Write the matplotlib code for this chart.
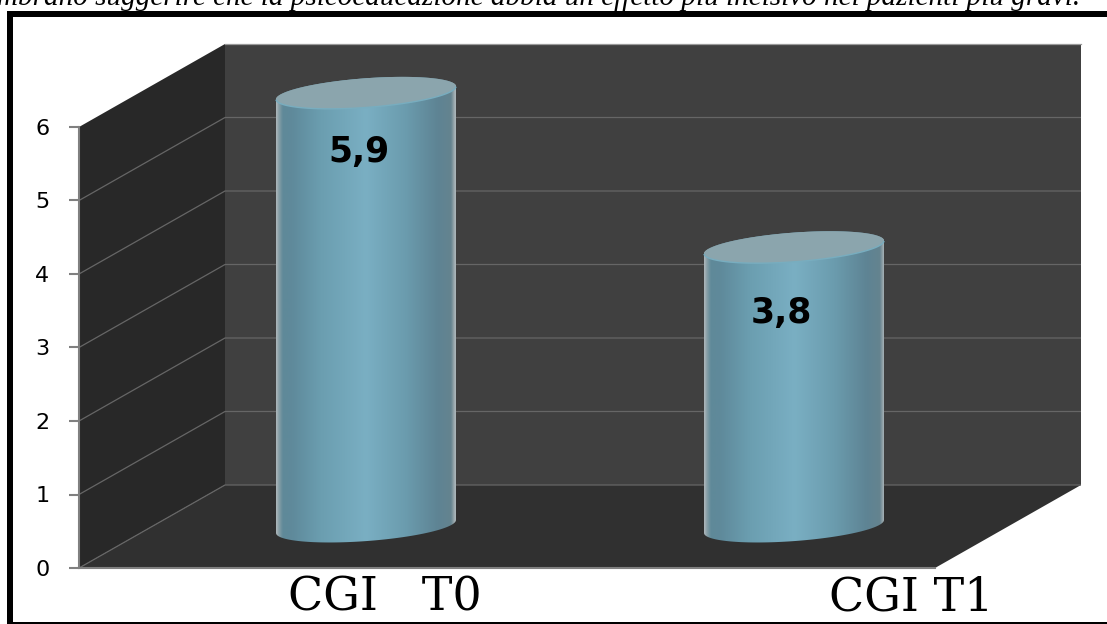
import numpy as np
import matplotlib
matplotlib.use("Agg")
import matplotlib.pyplot as plt
from matplotlib.colors import LinearSegmentedColormap
from matplotlib.patches import Polygon, Rectangle

# Values
categories = ["CGI   T0", "CGI T1"]
cgi_scores = [5.9, 3.8]
score_labels = ["5,9", "3,8"]
y_ticks = [0, 1, 2, 3, 4, 5, 6]
caption = "mbrano suggerire che la psicoeducazione abbia un effetto più incisivo nei pazienti più gravi."

# Figure geometry in pixels
W, H = 1107, 624
LEFT, BASE = 79, 568          # front corner of the box
UNIT_X, UNIT_Y = 428, 73.5    # pixels per category / per score point
DEPTH_X = 146 / UNIT_X        # how far the back wall is shifted
DEPTH_Y = 83 / UNIT_Y
X_MAX = 2
Y_MAX = 6

fig = plt.figure(figsize=(W / 100, H / 100), dpi=100, facecolor="white")
ax = fig.add_axes([0, 0, 1, 1])
ax.patch.set_visible(False)

# 3D box: back wall, side wall, floor
back = [(DEPTH_X, DEPTH_Y), (X_MAX + DEPTH_X, DEPTH_Y),
        (X_MAX + DEPTH_X, Y_MAX + DEPTH_Y), (DEPTH_X, Y_MAX + DEPTH_Y)]
side = [(0, 0), (DEPTH_X, DEPTH_Y), (DEPTH_X, Y_MAX + DEPTH_Y), (0, Y_MAX)]
floor = [(0, 0), (X_MAX, 0), (X_MAX + DEPTH_X, DEPTH_Y), (DEPTH_X, DEPTH_Y)]
ax.add_patch(Polygon(back, fc="#404040", ec="none", zorder=1))
ax.add_patch(Polygon(side, fc="#282828", ec="none", zorder=1))
ax.add_patch(Polygon(floor, fc="#303030", ec="none", zorder=1))

# Gridlines run along the side wall and then across the back wall
for v in y_ticks[:-1]:
    ax.plot([0, DEPTH_X, X_MAX + DEPTH_X], [v, v + DEPTH_Y, v + DEPTH_Y],
            color="#666666", lw=0.9, zorder=2, solid_capstyle="butt")
ax.plot([DEPTH_X, X_MAX + DEPTH_X], [Y_MAX + DEPTH_Y] * 2, color="#9a9a9a", lw=0.9, zorder=2)

# Cylinder shading, left to right
stops = [(0.0, "#aab5b9"), (0.01, "#8fa3aa"), (0.035, "#5f8999"), (0.09, "#5f8a9b"),
         (0.25, "#6b9eb0"), (0.5, "#7aafc3"), (0.72, "#6b9cae"), (0.9, "#5e8494"),
         (0.975, "#64838f"), (0.992, "#98a6ab"), (1.0, "#aab5b9")]
body_cmap = LinearSegmentedColormap.from_list("cylinder", stops)
shade = np.linspace(0, 1, 400).reshape(1, -1)

half_w = 90 / UNIT_X
half_h = 14.6 / UNIT_Y
tilt = 6.5 / UNIT_Y


def ellipse(cx, cy, t):
    return cx + half_w * np.cos(t), cy + half_h * np.sin(t) + tilt * np.cos(t)


for i, score in enumerate(cgi_scores):
    cx = i + 0.5 + DEPTH_X / 2
    cy0 = DEPTH_Y / 2
    cy1 = score + DEPTH_Y / 2

    # outline: lower arc of the base, then back over the top
    low_x, low_y = ellipse(cx, cy0, np.linspace(np.pi, 2 * np.pi, 80))
    up_x, up_y = ellipse(cx, cy1, np.linspace(0, np.pi, 80))
    outline = np.column_stack([np.r_[low_x, up_x], np.r_[low_y, up_y]])
    body = Polygon(outline, fc="none", ec="none", transform=ax.transData)
    ax.add_patch(body)
    im = ax.imshow(shade, cmap=body_cmap, aspect="auto", zorder=3, interpolation="bilinear",
                   extent=(cx - half_w, cx + half_w, cy0 - 1, cy1 + 1))
    im.set_clip_path(body)

    # top cap with its lighter front rim
    cap_x, cap_y = ellipse(cx, cy1, np.linspace(0, 2 * np.pi, 160))
    ax.fill(cap_x, cap_y, color="#8ba5ad", lw=0, zorder=4)
    rim_x, rim_y = ellipse(cx, cy1, np.linspace(np.pi * 1.02, 1.98 * np.pi, 80))
    ax.plot(rim_x, rim_y, color="#78adbf", lw=1.0, zorder=5)

    # value label inside the cylinder
    ax.text(cx - (7 + 6 * i) / UNIT_X, cy1 - (59 + 7 * i) / UNIT_Y, score_labels[i], ha="center",
            va="center", fontsize=25, fontweight="bold", color="black", family="DejaVu Sans", zorder=6)

ax.set_xlim(-LEFT / UNIT_X, (W - LEFT) / UNIT_X)
ax.set_ylim((BASE - H) / UNIT_Y, BASE / UNIT_Y)

# Value axis on the front corner of the box
for name in ["top", "right"]:
    ax.spines[name].set_visible(False)
ax.spines["left"].set_position(("data", 0))
ax.spines["left"].set_bounds(0, Y_MAX)
ax.spines["bottom"].set_position(("data", 0))
ax.spines["bottom"].set_bounds(0, X_MAX)
for name in ["left", "bottom"]:
    ax.spines[name].set_color("#808080")
    ax.spines[name].set_linewidth(1.5)
    ax.spines[name].set_zorder(7)
ax.set_yticks(y_ticks)
ax.set_yticklabels([str(v) for v in y_ticks], fontsize=16, family="DejaVu Sans")
ax.tick_params(axis="y", length=7.2, width=1.5, color="#808080", pad=14, labelcolor="black")
ax.set_xticks([])

# Category names sit under the box, shifted to the right of the cylinders
label_x = [(385 - LEFT) / UNIT_X, (911 - LEFT) / UNIT_X]
for x, name in zip(label_x, categories):
    ax.text(x, -30 / UNIT_Y, name, ha="center", va="center", fontsize=33,
            family="DejaVu Serif", color="black", zorder=6)


# Outer frame and the sentence above it, in pixel positions
def px(x, y):
    return x / W, 1 - y / H


frame = [(7, 11, 6, H - 11), (7, 11, W - 7, 6), (7, 622, W - 7, 2)]
for x, y, w, h in frame:
    x0, y0 = px(x, y + h)
    fig.add_artist(Rectangle((x0, y0), w / W, h / H, transform=fig.transFigure,
                             fc="black", ec="none", zorder=10))

fx, fy = px(-3, 5)
fig.text(fx, fy, caption, fontsize=21, style="italic", family="Liberation Serif",
         color="black", ha="left", va="baseline")

fig.savefig("out.png", dpi=100, facecolor="white")
